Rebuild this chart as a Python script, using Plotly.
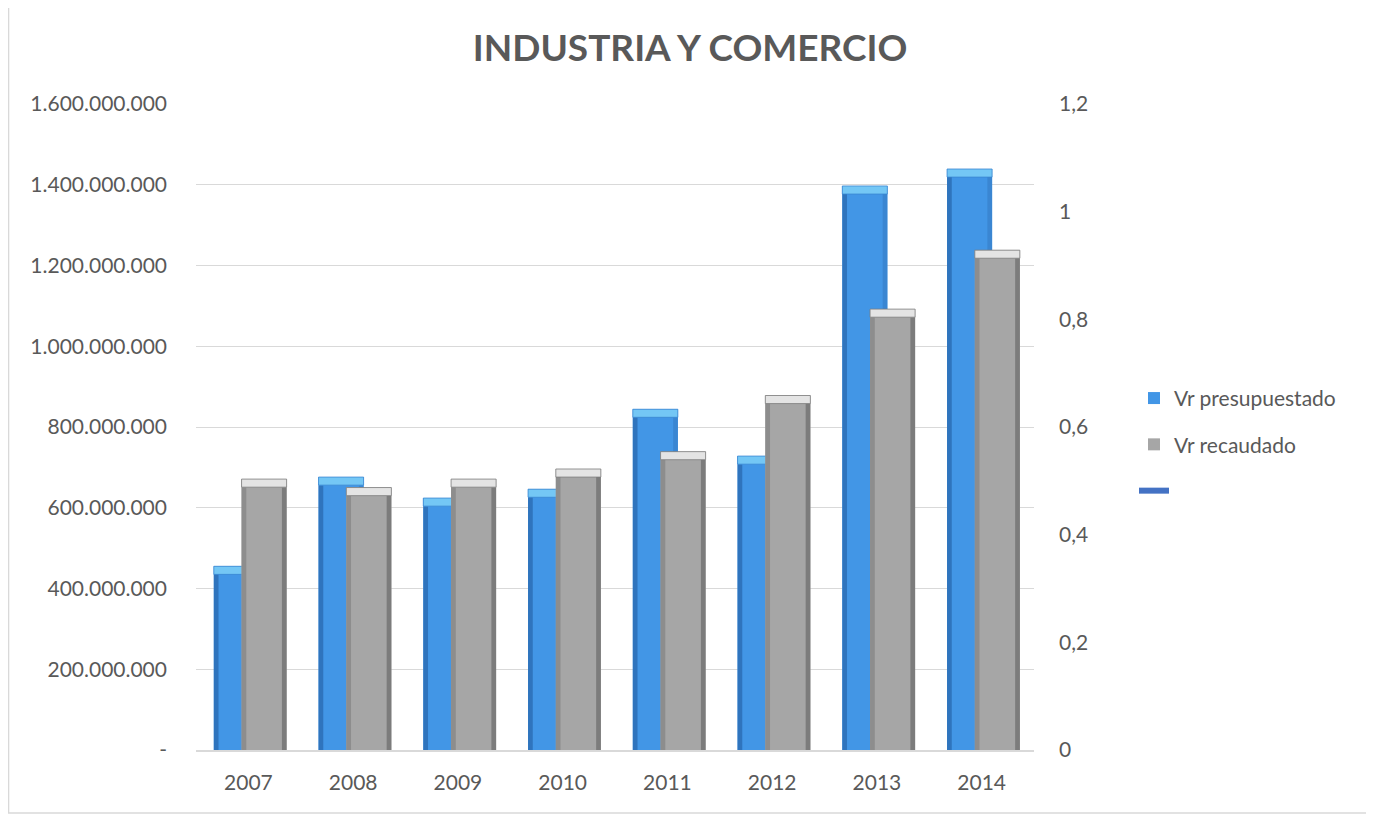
import plotly.graph_objects as go

# ---- data ----
years = ["2007", "2008", "2009", "2010", "2011", "2012", "2013", "2014"]
presupuestado = [455e6, 676e6, 624e6, 646e6, 844e6, 728e6, 1397e6, 1439e6]
recaudado = [671e6, 650e6, 671e6, 696e6, 739e6, 878e6, 1092e6, 1238e6]

left_ticks = [0, 200e6, 400e6, 600e6, 800e6, 1000e6, 1200e6, 1400e6, 1600e6]
left_tick_labels = ["-", "200.000.000", "400.000.000", "600.000.000", "800.000.000",
                    "1.000.000.000", "1.200.000.000", "1.400.000.000", "1.600.000.000"]
right_ticks = [0, 0.2, 0.4, 0.6, 0.8, 1.0, 1.2]
right_tick_labels = ["0", "0,2", "0,4", "0,6", "0,8", "1", "1,2"]

# ---- style ----
FONT = "Lato"
TXT = "#595959"
CAP = 20e6          # bevel cap height in data units
W = 0.43
OFF_B = -0.33
OFF_G = -0.065
EDGE = 0.045

fig = go.Figure()

def add_series(vals, name, off, main, left_edge, right_edge, cap_col):
    below = [v - CAP for v in vals]
    fig.add_trace(go.Bar(x=years, y=vals, name=name, offset=off, width=W,
                         marker=dict(color=main, line=dict(width=0)),
                         legendgroup=name, showlegend=True))
    fig.add_trace(go.Bar(x=years, y=below, offset=off, width=EDGE,
                         marker=dict(color=left_edge, line=dict(width=0)),
                         showlegend=False, hoverinfo="skip"))
    fig.add_trace(go.Bar(x=years, y=below, offset=off + W - EDGE, width=EDGE,
                         marker=dict(color=right_edge, line=dict(width=0)),
                         showlegend=False, hoverinfo="skip"))
    fig.add_trace(go.Bar(x=years, y=[CAP] * len(vals), base=below, offset=off, width=W,
                         marker=dict(color=cap_col, line=dict(width=0.8, color=right_edge)),
                         showlegend=False, hoverinfo="skip"))

add_series(presupuestado, "Vr presupuestado", OFF_B,
           "#4296e6", "#2f74bd", "#3a86d2", "#74c7f5")
add_series(recaudado, "Vr recaudado", OFF_G,
           "#a6a6a6", "#8d8d8d", "#7c7c7c", "#e4e4e4")

# empty third series on the secondary axis (legend line only)
fig.add_trace(go.Scatter(x=[None], y=[None], yaxis="y2", mode="lines", name=" ",
                         line=dict(color="#4472C4", width=6), legendgroup="third"))

fig.update_layout(
    width=1374, height=815,
    paper_bgcolor="white", plot_bgcolor="white",
    barmode="overlay",
    separators=",.",
    font=dict(family=FONT, color=TXT, size=21),
    margin=dict(l=188, r=348, t=96, b=73, autoexpand=False),
    title=dict(text="<b>INDUSTRIA Y COMERCIO</b>", x=0.4964, xanchor="center",
               y=0.951, yanchor="middle",
               font=dict(family=FONT, size=37, color=TXT)),
    xaxis=dict(type="category", showgrid=False, showline=True, linecolor="#d9d9d9",
               linewidth=1.5, ticks="", tickfont=dict(size=21, color=TXT),
               ticklabelstandoff=13, fixedrange=True),
    yaxis=dict(range=[0, 1.6e9], tickvals=left_ticks, ticktext=left_tick_labels,
               showgrid=True, gridcolor="#d9d9d9", gridwidth=1.2, zeroline=False,
               showline=False, ticks="", tickfont=dict(size=21, color=TXT),
               ticklabelstandoff=28),
    yaxis2=dict(range=[0, 1.2], overlaying="y", side="right", tickvals=right_ticks,
                ticktext=right_tick_labels, showgrid=False, zeroline=False,
                showline=False, ticks="", tickfont=dict(size=21, color=TXT),
                ticklabelstandoff=24),
    legend=dict(x=1.1193, y=0.576, xanchor="left", yanchor="top",
                font=dict(size=21, color=TXT), tracegroupgap=16,
                bgcolor="rgba(0,0,0,0)"),
    showlegend=True,
    shapes=[dict(type="rect", xref="paper", yref="paper",
                 x0=-0.2237, x1=1.4045, y0=-0.0975, y1=1.18,
                 line=dict(color="#d9d9d9", width=1.5), fillcolor="rgba(0,0,0,0)",
                 layer="below")],
)

fig.write_html("out.html")
